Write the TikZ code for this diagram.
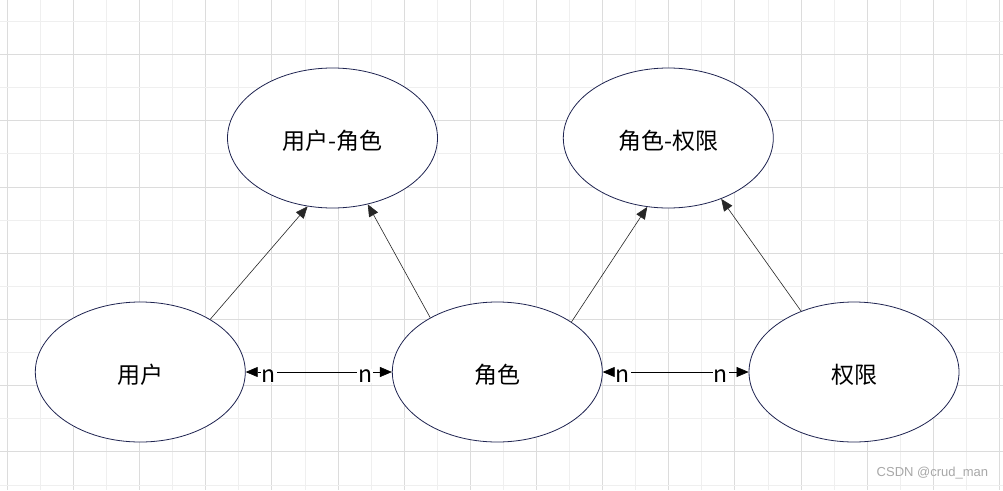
\documentclass[tikz,border=0pt]{standalone}
\usepackage{fontspec}
\setmainfont{Noto Sans CJK SC}
\newfontfamily\wmfont{Liberation Sans}
\usetikzlibrary{shapes.geometric,arrows.meta}
\definecolor{gridlight}{HTML}{EFEFEF}
\definecolor{griddark}{HTML}{DCDCDC}
\definecolor{ellcol}{RGB}{30,35,80}
\definecolor{wmcol}{HTML}{A8A8A8}
\tikzset{
  ent/.style={ellipse, draw=ellcol, line width=0.8pt, fill=white, minimum width=210pt, minimum height=140pt, inner sep=0pt},
  etxt/.style={font=\fontsize{23}{26}\selectfont, yshift=-2.5pt, inner sep=0pt},
  conn/.style={line width=0.6pt, draw=black!85, -{Triangle[length=12pt,width=10pt]}},
  dconn/.style={line width=0.6pt, draw=black, {Triangle[length=12pt,width=10pt]}-{Triangle[length=12pt,width=10pt]}},
  nlab/.style={fill=white, inner sep=1pt, font=\fontsize{23}{26}\selectfont, yshift=-4pt}
}
\begin{document}
\begin{tikzpicture}[x=1pt,y=-1pt]
\useasboundingbox (0,0) rectangle (1003,490);
\fill[white] (0,0) rectangle (1003,490);
% grid
\foreach \k in {0,...,30} {
  \pgfmathsetmacro{\gx}{7.3+33.07*\k}
  \pgfmathtruncatemacro{\gpar}{mod(\k,2)}
  \ifnum\gpar=0
    \draw[griddark, line width=0.8pt] (\gx,0) -- (\gx,490);
  \else
    \draw[gridlight, line width=0.8pt] (\gx,0) -- (\gx,490);
  \fi
}
\foreach \k in {0,...,14} {
  \pgfmathsetmacro{\gy}{21.3+33.12*\k}
  \pgfmathtruncatemacro{\gpar}{mod(\k,2)}
  \ifnum\gpar=1
    \draw[griddark, line width=0.8pt] (0,\gy) -- (1003,\gy);
  \else
    \draw[gridlight, line width=0.8pt] (0,\gy) -- (1003,\gy);
  \fi
}
% entities
\node[ent, label={[etxt]center:用户-角色}] (ur) at (332.5,138) {};
\node[ent, label={[etxt]center:角色-权限}] (rp) at (668.3,138) {};
\node[ent, label={[etxt]center:用户}] (user) at (140.3,372) {};
\node[ent, label={[etxt]center:角色}] (role) at (497.3,372) {};
\node[ent, label={[etxt]center:权限}] (perm) at (854,372) {};
% connectors
\draw[conn] (user.37.4) -- (ur.250.1);
\draw[conn] (role.141.7) -- (ur.298.1);
\draw[conn] (role.34.4) -- (rp.253.8);
\draw[conn] (perm.131.8) -- (rp.311.6);
\draw[dconn] (user.east) -- (role.west)
  node[nlab, pos=0.159] (n1) {n}
  node[nlab, pos=0.818] (n2) {n};
\draw[dconn] (role.east) -- (perm.west)
  node[nlab, pos=0.136] (n3) {n}
  node[nlab, pos=0.81] (n4) {n};
% watermark
\node[font=\wmfont\fontsize{13}{15}\selectfont, text=wmcol, anchor=west, inner sep=0pt] (wm) at (876.5,473) {CSDN @crud\_man};
\end{tikzpicture}
\end{document}
